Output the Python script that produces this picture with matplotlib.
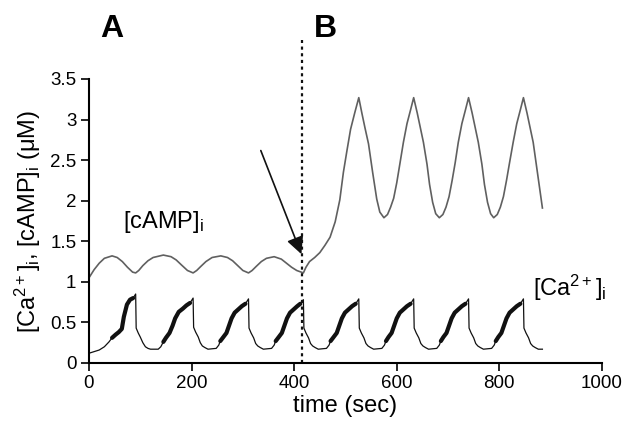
import numpy as np
import matplotlib
matplotlib.use('Agg')
import matplotlib.pyplot as plt

plt.rcParams['font.family'] = ['Liberation Sans', 'DejaVu Sans']
plt.rcParams['mathtext.fontset'] = 'custom'
plt.rcParams['mathtext.rm'] = 'Liberation Sans'
plt.rcParams['mathtext.it'] = 'Liberation Sans:italic'
plt.rcParams['mathtext.bf'] = 'Liberation Sans:bold'

# [Ca2+]i trace (time in sec, conc in uM)
ca_t = [0, 10, 20, 30, 39, 45, 52, 58, 64, 68, 74, 80, 86, 91,
        92, 96, 100, 105, 110, 115, 120, 135, 140, 145,
        150, 157, 163, 168, 175, 183, 190, 197, 203,
        204, 208, 213, 217, 221, 226, 232, 248, 253, 256,
        262, 268, 273, 278, 284, 291, 298, 305, 311,
        312, 316, 321, 325, 329, 334, 340, 356, 361, 364,
        370, 376, 381, 386, 392, 399, 406, 412, 418,
        419, 423, 428, 432, 436, 441, 447, 463, 468, 471,
        477, 483, 488, 493, 499, 506, 513, 520, 526,
        527, 531, 536, 540, 544, 549, 555, 571, 576, 579,
        584, 590, 595, 600, 606, 613, 620, 627, 633,
        634, 638, 643, 647, 651, 656, 662, 678, 683, 686,
        691, 697, 702, 707, 713, 720, 727, 734, 740,
        741, 745, 750, 754, 758, 763, 769, 785, 790, 793,
        798, 804, 809, 814, 820, 827, 834, 841, 847,
        848, 852, 857, 861, 865, 870, 876, 884]
ca_v = [0.12, 0.14, 0.16, 0.20, 0.26, 0.31, 0.35, 0.38, 0.42, 0.57, 0.72, 0.78, 0.80, 0.85,
        0.43, 0.37, 0.32, 0.25, 0.20, 0.18, 0.17, 0.17, 0.20, 0.26,
        0.31, 0.37, 0.46, 0.55, 0.63, 0.67, 0.71, 0.74, 0.80,
        0.44, 0.38, 0.32, 0.25, 0.21, 0.19, 0.17, 0.18, 0.22, 0.27,
        0.32, 0.37, 0.46, 0.55, 0.62, 0.66, 0.70, 0.73, 0.79,
        0.43, 0.37, 0.31, 0.24, 0.21, 0.19, 0.17, 0.18, 0.22, 0.27,
        0.32, 0.37, 0.46, 0.55, 0.62, 0.66, 0.70, 0.73, 0.78,
        0.43, 0.37, 0.31, 0.24, 0.21, 0.19, 0.17, 0.18, 0.22, 0.27,
        0.32, 0.37, 0.46, 0.55, 0.62, 0.66, 0.70, 0.73, 0.79,
        0.43, 0.37, 0.31, 0.24, 0.21, 0.19, 0.17, 0.18, 0.22, 0.27,
        0.32, 0.37, 0.46, 0.55, 0.62, 0.66, 0.70, 0.73, 0.79,
        0.43, 0.37, 0.31, 0.24, 0.21, 0.19, 0.17, 0.18, 0.22, 0.27,
        0.32, 0.37, 0.46, 0.55, 0.62, 0.66, 0.70, 0.73, 0.79,
        0.43, 0.37, 0.31, 0.24, 0.21, 0.19, 0.17, 0.18, 0.22, 0.27,
        0.32, 0.37, 0.46, 0.55, 0.62, 0.66, 0.70, 0.73, 0.79,
        0.43, 0.37, 0.31, 0.24, 0.21, 0.19, 0.17, 0.17]

# rising phases where the Ca trace looks thick (fast spiking)
burst_start = [42, 145, 256, 364, 471, 579, 686, 793]
burst_end = [88, 200, 308, 415, 523, 630, 737, 844]

# [cAMP]i trace
camp_t = [0, 10, 20, 30, 45, 55, 65, 75, 85, 91,
          97, 105, 115, 125, 145, 160, 170, 180, 192, 203,
          210, 218, 228, 240, 257, 270, 280, 290, 300, 311,
          318, 326, 336, 346, 361, 375, 385, 395, 405, 418,
          423, 430, 440, 450, 460, 470, 480, 489, 496, 503, 510, 518, 526,
          532, 538, 545, 553, 561, 567, 575,
          582, 588, 594, 600, 606, 613, 620, 627, 633,
          640, 646, 652, 659, 664, 670, 676, 683,
          690, 696, 702, 708, 714, 720, 727, 734, 740,
          747, 753, 759, 766, 771, 777, 783, 789,
          796, 802, 808, 814, 820, 827, 834, 841, 847,
          854, 860, 866, 872, 878, 884]
camp_v = [1.05, 1.15, 1.23, 1.29, 1.32, 1.30, 1.25, 1.18, 1.12, 1.11,
          1.14, 1.20, 1.26, 1.30, 1.33, 1.31, 1.27, 1.21, 1.14, 1.11,
          1.14, 1.19, 1.25, 1.30, 1.32, 1.30, 1.26, 1.20, 1.14, 1.11,
          1.14, 1.19, 1.25, 1.29, 1.31, 1.28, 1.23, 1.18, 1.14, 1.11,
          1.18, 1.25, 1.30, 1.36, 1.45, 1.55, 1.74, 2.01, 2.35, 2.62, 2.88, 3.08, 3.27,
          3.08, 2.90, 2.70, 2.35, 2.02, 1.86, 1.79,
          1.83, 1.92, 2.03, 2.22, 2.45, 2.72, 2.95, 3.12, 3.27,
          3.08, 2.90, 2.72, 2.45, 2.20, 1.98, 1.84, 1.79,
          1.83, 1.92, 2.05, 2.25, 2.47, 2.72, 2.95, 3.12, 3.27,
          3.08, 2.90, 2.72, 2.45, 2.20, 1.98, 1.84, 1.79,
          1.83, 1.92, 2.05, 2.25, 2.47, 2.72, 2.95, 3.12, 3.27,
          3.08, 2.90, 2.72, 2.45, 2.18, 1.91]

t_switch = 416  # moment of the switch (dotted line)

fig = plt.figure(figsize=(6.24, 4.24), dpi=100)
ax = fig.add_axes([0.1426, 0.1439, 0.822, 0.6698])

ax.plot(camp_t, camp_v, color='#606060', lw=1.2)
ax.plot(ca_t, ca_v, color='#111111', lw=0.9)

# thick parts of the Ca trace
ca_t_arr = np.array(ca_t)
ca_v_arr = np.array(ca_v)
for s, e in zip(burst_start, burst_end):
    m = (ca_t_arr >= s) & (ca_t_arr <= e)
    ax.plot(ca_t_arr[m], ca_v_arr[m], color='#111111', lw=3.0, solid_capstyle='round')

ax.plot([t_switch, t_switch], [0, 3.98], color='#111111', lw=1.6,
        linestyle=(0, (1.4, 1.6)), clip_on=False)

ax.annotate('', xy=(t_switch, 1.31), xytext=(333, 2.65),
            arrowprops=dict(arrowstyle='-|>', color='#111111', lw=1.2, mutation_scale=26))

ax.text(66, 1.74, r'[cAMP]$_\mathregular{i}$', fontsize=17, va='center', ha='left')
ax.text(865, 0.93, r'[Ca$^\mathregular{2+}$]$_\mathregular{i}$', fontsize=17, va='center', ha='left')
ax.text(44, 4.12, 'A', fontsize=23, fontweight='bold', ha='center', va='center')
ax.text(461, 4.12, 'B', fontsize=23, fontweight='bold', ha='center', va='center')

ax.set_xlim(0, 1000)
ax.set_ylim(0, 3.5)
ax.set_xticks([0, 200, 400, 600, 800, 1000])
ax.set_yticks([0, 0.5, 1, 1.5, 2, 2.5, 3, 3.5])
ax.set_yticklabels(['0', '0.5', '1', '1.5', '2', '2.5', '3', '3.5'])
ax.tick_params(direction='out', length=6, width=1.2, labelsize=13.5, pad=3)
for side in ['top', 'right']:
    ax.spines[side].set_visible(False)
for side in ['left', 'bottom']:
    ax.spines[side].set_linewidth(1.5)

ax.set_xlabel('time (sec)', fontsize=17, labelpad=2)
ax.set_ylabel(r'[Ca$^\mathregular{2+}$]$_\mathregular{i}$, [cAMP]$_\mathregular{i}$ (μM)',
              fontsize=17, labelpad=5)

fig.savefig('out.png', dpi=100)
